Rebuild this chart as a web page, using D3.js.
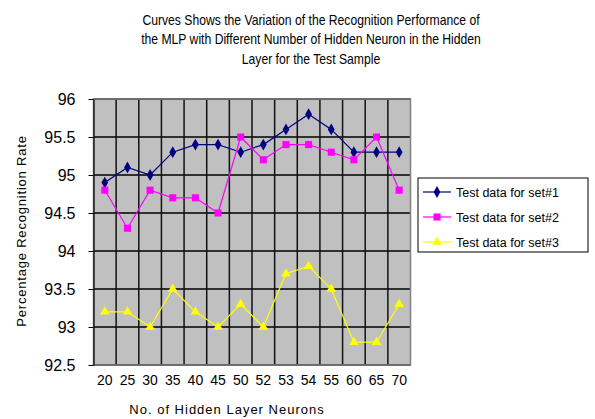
<!DOCTYPE html>
<html><head><meta charset="utf-8">
<script src="https://cdn.jsdelivr.net/npm/d3@7"></script>
<style>body{margin:0;background:#fff}svg{display:block;font-family:"Liberation Sans",Arial,sans-serif}</style>
</head><body>
<script>
const categories = ["20","25","30","35","40","45","50","52","53","54","55","60","65","70"];
const set1 = [94.9,95.1,95.0,95.3,95.4,95.4,95.3,95.4,95.6,95.8,95.6,95.3,95.3,95.3];
const set2 = [94.8,94.3,94.8,94.7,94.7,94.5,95.5,95.2,95.4,95.4,95.3,95.2,95.5,94.8];
const set3 = [93.2,93.2,93.0,93.5,93.2,93.0,93.3,93.0,93.7,93.8,93.5,92.8,92.8,93.3];
const yTicks = [92.5,93,93.5,94,94.5,95,95.5,96];
const seriesNames = ["Test data for set#1","Test data for set#2","Test data for set#3"];
const titleLines = ["Curves Shows the Variation of the Recognition Performance of","the MLP with Different Number of Hidden Neuron in the Hidden","Layer for the Test Sample"];

const W=595,H=419;
const svg=d3.select("body").append("svg").attr("width",W).attr("height",H);
const L=93.5,R=410.5,T=99,B=365;
const x=d3.scaleBand().domain(categories).range([L,R]);
const y=d3.scaleLinear().domain([92.5,96]).range([B,T]);

// title
svg.append("g").attr("transform","translate(311,0) scale(0.84,1)").selectAll("text").data(titleLines).join("text")
 .attr("x",0).attr("y",(d,i)=>25+i*19.5).attr("text-anchor","middle")
 .attr("font-size",14.5).attr("fill","#000").text(d=>d);

// plot bg
svg.append("rect").attr("x",L).attr("y",T).attr("width",R-L).attr("height",B-T).attr("fill","#c0c0c0");
// grid
svg.append("g").selectAll("line").data(yTicks).join("line")
 .attr("x1",L).attr("x2",R).attr("y1",d=>y(d)).attr("y2",d=>y(d)).attr("stroke","#000").attr("stroke-width",1.5);
svg.append("g").selectAll("line").data(categories.slice(1)).join("line")
 .attr("x1",d=>x(d)).attr("x2",d=>x(d)).attr("y1",T).attr("y2",B).attr("stroke","#111").attr("stroke-width",1.5);
svg.append("rect").attr("x",L).attr("y",T).attr("width",R-L).attr("height",B-T).attr("fill","none").attr("stroke","#808080").attr("stroke-width",1.5);

// axes
const ya=svg.append("g").attr("transform",`translate(${L},0)`).call(d3.axisLeft(y).tickValues(yTicks).tickSize(5).tickSizeOuter(0).tickPadding(13).tickFormat(d3.format("")));
ya.select(".domain").attr("stroke","#000").attr("stroke-width",1.2);
ya.selectAll("text").attr("font-size",16).attr("font-family","Liberation Sans, Arial, sans-serif").attr("fill","#000");
ya.selectAll("line").attr("stroke","#000");
const xa=svg.append("g").attr("transform",`translate(0,${B})`).call(d3.axisBottom(x).tickSize(0).tickPadding(10));
xa.select(".domain").remove();
xa.selectAll("text").attr("font-size",14).attr("font-family","Liberation Sans, Arial, sans-serif").attr("fill","#000");

svg.append("text").attr("transform","translate(26,231) rotate(-90)").attr("text-anchor","middle").attr("font-size",13).attr("letter-spacing",0.8).text("Percentage Recognition Rate");
svg.append("text").attr("x",227).attr("y",414).attr("text-anchor","middle").attr("font-size",13).attr("letter-spacing",1).text("No. of Hidden Layer Neurons");

const series=[
 {vals:set1,color:"#000080",sym:d3.symbolDiamond,size:40,name:seriesNames[0]},
 {vals:set2,color:"#ff00ff",sym:d3.symbolSquare,size:50,name:seriesNames[1]},
 {vals:set3,color:"#ffff00",sym:d3.symbolTriangle,size:40,name:seriesNames[2]}
];
const cx=c=>x(c)+x.bandwidth()/2;
const line=d3.line().x((d,i)=>cx(categories[i])).y(d=>y(d));
series.forEach(s=>{
  svg.append("path").datum(s.vals).attr("d",line).attr("fill","none").attr("stroke",s.color).attr("stroke-width",1.2);
  svg.append("g").selectAll("path").data(s.vals).join("path")
   .attr("d",d3.symbol().type(s.sym).size(s.size))
   .attr("transform",(d,i)=>`translate(${cx(categories[i])},${y(d)})`).attr("fill",s.color);
});

// legend
const lg=svg.append("g");
lg.append("rect").attr("x",418).attr("y",178).attr("width",170).attr("height",74).attr("fill","#fff").attr("stroke","#000").attr("stroke-width",1);
series.forEach((s,i)=>{
  const ly=192+i*25;
  lg.append("line").attr("x1",423).attr("x2",451).attr("y1",ly).attr("y2",ly).attr("stroke",s.color).attr("stroke-width",1.2);
  lg.append("path").attr("d",d3.symbol().type(s.sym).size(s.size)()).attr("transform",`translate(437,${ly})`).attr("fill",s.color);
  lg.append("text").attr("x",456).attr("y",ly+4.5).attr("font-size",12.5).text(s.name);
});
</script>
</body></html>
